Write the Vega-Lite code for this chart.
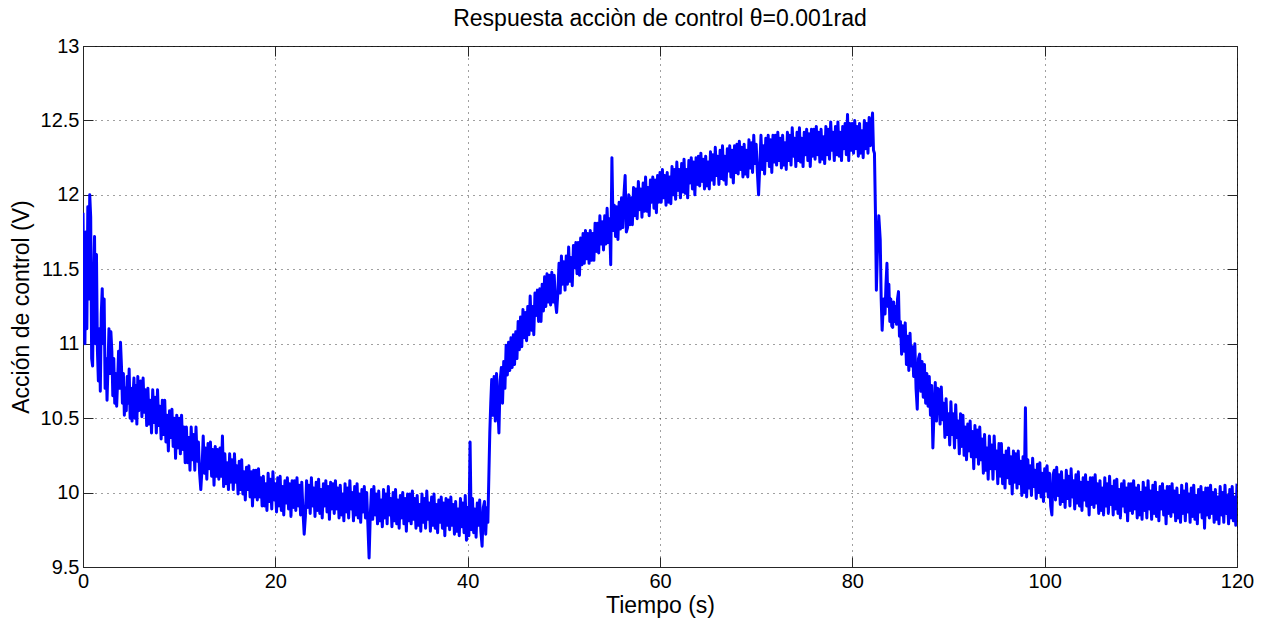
{
  "$schema": "https://vega.github.io/schema/vega-lite/v6.json",
  "autosize": {"type": "none"},
  "width": 1154,
  "height": 521,
  "padding": {"left": 83, "top": 46, "right": 28, "bottom": 57},
  "background": "white",
  "title": {"text": "Respuesta acciòn de control θ=0.001rad", "font": "Liberation Sans", "fontSize": 23, "fontWeight": "normal", "color": "#000000", "offset": 5, "anchor": "middle"},
  "config": {"view": {"stroke": "#262626", "strokeWidth": 1}},
  "data": {"values": [
{"t":0,"v":11.88},{"t":0.1,"v":11.2},{"t":0.2,"v":11.0},{"t":0.3,"v":11.75},{"t":0.4,"v":11.1},{"t":0.5,"v":11.92},{"t":0.6,"v":11.3},{"t":0.7,"v":12.0},{"t":0.8,"v":11.85},{"t":0.9,"v":10.9},
{"t":1.0,"v":10.85},{"t":1.1,"v":11.4},{"t":1.2,"v":11.72},{"t":1.3,"v":11.0},{"t":1.4,"v":11.6},{"t":1.5,"v":10.95},{"t":1.6,"v":10.75},{"t":1.7,"v":11.1},{"t":1.8,"v":10.68},{"t":1.9,"v":11.2},
{"t":2.0,"v":11.37},{"t":2.1,"v":11.0},{"t":2.2,"v":11.3},{"t":2.3,"v":10.7},{"t":2.4,"v":10.9},{"t":2.5,"v":10.62},{"t":2.6,"v":10.85},{"t":2.7,"v":11.1},{"t":2.8,"v":10.8},{"t":2.9,"v":11.08},
{"t":3.0,"v":10.95},{"t":3.1,"v":10.65},{"t":3.2,"v":10.9},{"t":3.3,"v":10.6},{"t":3.4,"v":10.8},{"t":3.5,"v":10.58},{"t":3.6,"v":10.75},{"t":3.7,"v":10.95},{"t":3.8,"v":10.7},{"t":3.9,"v":11.01},
{"t":4.0,"v":10.85},{"t":4.1,"v":10.6},{"t":4.2,"v":10.8},{"t":4.3,"v":10.52},{"t":4.4,"v":10.7},{"t":4.5,"v":10.55},{"t":4.6,"v":10.78},{"t":4.7,"v":10.6},{"t":4.8,"v":10.83},{"t":4.9,"v":10.5},
{"t":5.0,"v":10.7},{"t":5.1,"v":10.48},{"t":5.2,"v":10.65},{"t":5.3,"v":10.77},{"t":5.4,"v":10.5},{"t":5.5,"v":10.72},{"t":5.6,"v":10.46},{"t":5.7,"v":10.78},{"t":5.8,"v":10.55},{"t":5.9,"v":10.7},
{"t":6.0,"v":10.75},{"t":6.125,"v":10.51},{"t":6.25,"v":10.77},{"t":6.375,"v":10.54},{"t":6.5,"v":10.69},{"t":6.625,"v":10.45},{"t":6.75,"v":10.70},{"t":6.875,"v":10.46},
{"t":7.0,"v":10.62},{"t":7.125,"v":10.40},{"t":7.25,"v":10.69},{"t":7.375,"v":10.47},{"t":7.5,"v":10.64},{"t":7.625,"v":10.40},{"t":7.75,"v":10.69},{"t":7.875,"v":10.45},
{"t":8.0,"v":10.58},{"t":8.125,"v":10.36},{"t":8.25,"v":10.62},{"t":8.375,"v":10.39},{"t":8.5,"v":10.62},{"t":8.625,"v":10.34},{"t":8.75,"v":10.52},{"t":8.875,"v":10.28},
{"t":9.0,"v":10.55},{"t":9.125,"v":10.37},{"t":9.25,"v":10.56},{"t":9.375,"v":10.31},{"t":9.5,"v":10.50},{"t":9.625,"v":10.23},{"t":9.75,"v":10.52},{"t":9.875,"v":10.30},
{"t":10.0,"v":10.50},{"t":10.125,"v":10.26},{"t":10.25,"v":10.52},{"t":10.375,"v":10.29},{"t":10.5,"v":10.44},{"t":10.625,"v":10.20},{"t":10.75,"v":10.44},{"t":10.875,"v":10.20},
{"t":11.0,"v":10.37},{"t":11.125,"v":10.15},{"t":11.25,"v":10.44},{"t":11.375,"v":10.22},{"t":11.5,"v":10.39},{"t":11.625,"v":10.15},{"t":11.75,"v":10.44},{"t":11.875,"v":10.21},
{"t":12.0,"v":10.34},{"t":12.125,"v":10.13},{"t":12.25,"v":10.02},{"t":12.375,"v":10.16},{"t":12.5,"v":10.38},{"t":12.625,"v":10.13},{"t":12.75,"v":10.30},{"t":12.875,"v":10.09},
{"t":13.0,"v":10.33},{"t":13.125,"v":10.16},{"t":13.25,"v":10.34},{"t":13.375,"v":10.11},{"t":13.5,"v":10.29},{"t":13.625,"v":10.05},{"t":13.75,"v":10.31},{"t":13.875,"v":10.11},
{"t":14.0,"v":10.29},{"t":14.125,"v":10.09},{"t":14.25,"v":10.30},{"t":14.375,"v":10.11},{"t":14.5,"v":10.38},{"t":14.625,"v":10.04},{"t":14.75,"v":10.26},{"t":14.875,"v":10.06},
{"t":15.0,"v":10.20},{"t":15.125,"v":10.02},{"t":15.25,"v":10.26},{"t":15.375,"v":10.07},{"t":15.5,"v":10.22},{"t":15.625,"v":10.02},{"t":15.75,"v":10.26},{"t":15.875,"v":10.07},
{"t":16.0,"v":10.18},{"t":16.125,"v":9.99},{"t":16.25,"v":10.21},{"t":16.375,"v":10.02},{"t":16.5,"v":10.22},{"t":16.625,"v":9.99},{"t":16.75,"v":10.14},{"t":16.875,"v":9.95},
{"t":17.0,"v":10.17},{"t":17.125,"v":10.02},{"t":17.25,"v":10.18},{"t":17.375,"v":9.97},{"t":17.5,"v":10.14},{"t":17.625,"v":9.91},{"t":17.75,"v":10.15},{"t":17.875,"v":9.97},
{"t":18.0,"v":10.15},{"t":18.125,"v":9.95},{"t":18.25,"v":10.16},{"t":18.375,"v":9.97},{"t":18.5,"v":10.10},{"t":18.625,"v":9.91},{"t":18.75,"v":10.11},{"t":18.875,"v":9.91},
{"t":19.0,"v":10.06},{"t":19.125,"v":9.88},{"t":19.25,"v":10.13},{"t":19.375,"v":9.94},{"t":19.5,"v":10.09},{"t":19.625,"v":9.89},{"t":19.75,"v":10.14},{"t":19.875,"v":9.95},
{"t":20.0,"v":10.06},{"t":20.125,"v":9.87},{"t":20.25,"v":10.10},{"t":20.375,"v":9.91},{"t":20.5,"v":10.11},{"t":20.625,"v":9.88},{"t":20.75,"v":10.04},{"t":20.875,"v":9.85},
{"t":21.0,"v":10.08},{"t":21.125,"v":9.93},{"t":21.25,"v":10.10},{"t":21.375,"v":9.89},{"t":21.5,"v":10.06},{"t":21.625,"v":9.84},{"t":21.75,"v":10.08},{"t":21.875,"v":9.90},
{"t":22.0,"v":10.08},{"t":22.125,"v":9.88},{"t":22.25,"v":10.10},{"t":22.375,"v":9.91},{"t":22.5,"v":10.05},{"t":22.625,"v":9.85},{"t":22.75,"v":10.07},{"t":22.875,"v":9.87},
{"t":23.0,"v":9.72},{"t":23.125,"v":9.84},{"t":23.25,"v":10.08},{"t":23.375,"v":9.90},{"t":23.5,"v":10.05},{"t":23.625,"v":9.86},{"t":23.75,"v":10.10},{"t":23.875,"v":9.91},
{"t":24.0,"v":10.03},{"t":24.125,"v":9.84},{"t":24.25,"v":10.07},{"t":24.375,"v":9.88},{"t":24.5,"v":10.09},{"t":24.625,"v":9.86},{"t":24.75,"v":10.02},{"t":24.875,"v":9.83},
{"t":25.0,"v":10.06},{"t":25.125,"v":9.91},{"t":25.25,"v":10.08},{"t":25.375,"v":9.87},{"t":25.5,"v":10.04},{"t":25.625,"v":9.82},{"t":25.75,"v":10.07},{"t":25.875,"v":9.89},
{"t":26.0,"v":10.06},{"t":26.125,"v":9.86},{"t":26.25,"v":10.08},{"t":26.375,"v":9.89},{"t":26.5,"v":10.03},{"t":26.625,"v":9.83},{"t":26.75,"v":10.05},{"t":26.875,"v":9.85},
{"t":27.0,"v":9.99},{"t":27.125,"v":9.81},{"t":27.25,"v":10.06},{"t":27.375,"v":9.87},{"t":27.5,"v":10.03},{"t":27.625,"v":9.83},{"t":27.75,"v":10.08},{"t":27.875,"v":9.89},
{"t":28.0,"v":10.0},{"t":28.125,"v":9.81},{"t":28.25,"v":10.04},{"t":28.375,"v":9.85},{"t":28.5,"v":10.06},{"t":28.625,"v":9.83},{"t":28.75,"v":9.99},{"t":28.875,"v":9.80},
{"t":29.0,"v":10.02},{"t":29.125,"v":9.87},{"t":29.25,"v":10.04},{"t":29.375,"v":9.83},{"t":29.5,"v":10.0},{"t":29.625,"v":9.78},{"t":29.75,"v":9.56},{"t":29.875,"v":9.85},
{"t":30.0,"v":10.02},{"t":30.125,"v":9.82},{"t":30.25,"v":10.04},{"t":30.375,"v":9.85},{"t":30.5,"v":9.99},{"t":30.625,"v":9.79},{"t":30.75,"v":10.01},{"t":30.875,"v":9.81},
{"t":31.0,"v":9.95},{"t":31.125,"v":9.77},{"t":31.25,"v":10.02},{"t":31.375,"v":9.83},{"t":31.5,"v":9.99},{"t":31.625,"v":9.79},{"t":31.75,"v":10.04},{"t":31.875,"v":9.85},
{"t":32.0,"v":9.96},{"t":32.125,"v":9.77},{"t":32.25,"v":10.0},{"t":32.375,"v":9.81},{"t":32.5,"v":10.02},{"t":32.625,"v":9.79},{"t":32.75,"v":9.95},{"t":32.875,"v":9.76},
{"t":33.0,"v":9.98},{"t":33.125,"v":9.83},{"t":33.25,"v":10.0},{"t":33.375,"v":9.79},{"t":33.5,"v":9.96},{"t":33.625,"v":9.74},{"t":33.75,"v":9.99},{"t":33.875,"v":9.81},
{"t":34.0,"v":9.99},{"t":34.125,"v":9.79},{"t":34.25,"v":10.01},{"t":34.375,"v":9.82},{"t":34.5,"v":9.96},{"t":34.625,"v":9.76},{"t":34.75,"v":9.98},{"t":34.875,"v":9.78},
{"t":35.0,"v":9.92},{"t":35.125,"v":9.74},{"t":35.25,"v":9.99},{"t":35.375,"v":9.80},{"t":35.5,"v":9.96},{"t":35.625,"v":9.76},{"t":35.75,"v":10.01},{"t":35.875,"v":9.82},
{"t":36.0,"v":9.93},{"t":36.125,"v":9.74},{"t":36.25,"v":9.97},{"t":36.375,"v":9.78},{"t":36.5,"v":9.99},{"t":36.625,"v":9.76},{"t":36.75,"v":9.92},{"t":36.875,"v":9.73},
{"t":37.0,"v":9.95},{"t":37.125,"v":9.80},{"t":37.25,"v":9.97},{"t":37.375,"v":9.76},{"t":37.5,"v":9.93},{"t":37.625,"v":9.71},{"t":37.75,"v":9.96},{"t":37.875,"v":9.78},
{"t":38.0,"v":9.95},{"t":38.125,"v":9.75},{"t":38.25,"v":9.97},{"t":38.375,"v":9.78},{"t":38.5,"v":9.92},{"t":38.625,"v":9.72},{"t":38.75,"v":9.94},{"t":38.875,"v":9.74},
{"t":39.0,"v":9.89},{"t":39.125,"v":9.71},{"t":39.25,"v":9.96},{"t":39.375,"v":9.77},{"t":39.5,"v":9.93},{"t":39.625,"v":9.73},{"t":39.75,"v":9.98},{"t":39.875,"v":9.68},
{"t":40.0,"v":9.90},{"t":40.125,"v":9.71},{"t":40.25,"v":10.34},{"t":40.375,"v":9.75},{"t":40.5,"v":9.96},{"t":40.625,"v":9.73},{"t":40.75,"v":9.89},{"t":40.875,"v":9.70},
{"t":41.0,"v":9.93},{"t":41.125,"v":9.78},{"t":41.25,"v":9.95},{"t":41.375,"v":9.74},{"t":41.5,"v":9.64},{"t":41.625,"v":9.90},{"t":41.75,"v":9.94},{"t":41.875,"v":9.72},
{"t":42.0,"v":9.90},{"t":42.1,"v":9.80},{"t":42.2,"v":10.1},{"t":42.3,"v":10.4},{"t":42.4,"v":10.6},{"t":42.5,"v":10.76},{"t":42.625,"v":10.52},{"t":42.75,"v":10.78},{"t":42.875,"v":10.48},
{"t":43.0,"v":10.8},{"t":43.125,"v":10.6},{"t":43.25,"v":10.4},{"t":43.375,"v":10.75},{"t":43.5,"v":10.84},{"t":43.625,"v":10.6},{"t":43.75,"v":10.88},{"t":43.875,"v":10.7},
{"t":44.0,"v":10.99},{"t":44.125,"v":10.79},{"t":44.25,"v":11.01},{"t":44.375,"v":10.82},{"t":44.5,"v":11.04},{"t":44.625,"v":10.84},{"t":44.75,"v":11.06},{"t":44.875,"v":10.86},
{"t":45.0,"v":11.08},{"t":45.125,"v":10.90},{"t":45.25,"v":11.15},{"t":45.375,"v":10.96},{"t":45.5,"v":11.18},{"t":45.625,"v":10.98},{"t":45.75,"v":11.23},{"t":45.875,"v":11.04},
{"t":46.0,"v":11.21},{"t":46.125,"v":11.02},{"t":46.25,"v":11.25},{"t":46.375,"v":11.06},{"t":46.5,"v":11.32},{"t":46.625,"v":11.09},{"t":46.75,"v":11.25},{"t":46.875,"v":11.06},
{"t":47.0,"v":11.34},{"t":47.125,"v":11.19},{"t":47.25,"v":11.36},{"t":47.375,"v":11.15},{"t":47.5,"v":11.37},{"t":47.625,"v":11.15},{"t":47.75,"v":11.40},{"t":47.875,"v":11.22},
{"t":48.0,"v":11.45},{"t":48.125,"v":11.25},{"t":48.25,"v":11.47},{"t":48.375,"v":11.28},{"t":48.5,"v":11.46},{"t":48.625,"v":11.26},{"t":48.75,"v":11.48},{"t":48.875,"v":11.28},
{"t":49.0,"v":11.46},{"t":49.125,"v":11.28},{"t":49.25,"v":11.21},{"t":49.375,"v":11.34},{"t":49.5,"v":11.54},{"t":49.625,"v":11.34},{"t":49.75,"v":11.59},{"t":49.875,"v":11.40},
{"t":50.0,"v":11.55},{"t":50.125,"v":11.36},{"t":50.25,"v":11.59},{"t":50.375,"v":11.40},{"t":50.5,"v":11.65},{"t":50.625,"v":11.42},{"t":50.75,"v":11.58},{"t":50.875,"v":11.39},
{"t":51.0,"v":11.66},{"t":51.125,"v":11.51},{"t":51.25,"v":11.68},{"t":51.375,"v":11.47},{"t":51.5,"v":11.68},{"t":51.625,"v":11.46},{"t":51.75,"v":11.71},{"t":51.875,"v":11.53},
{"t":52.0,"v":11.74},{"t":52.125,"v":11.54},{"t":52.25,"v":11.76},{"t":52.375,"v":11.57},{"t":52.5,"v":11.74},{"t":52.625,"v":11.54},{"t":52.75,"v":11.76},{"t":52.875,"v":11.56},
{"t":53.0,"v":11.74},{"t":53.125,"v":11.56},{"t":53.25,"v":11.81},{"t":53.375,"v":11.62},{"t":53.5,"v":11.81},{"t":53.625,"v":11.61},{"t":53.75,"v":11.86},{"t":53.875,"v":11.67},
{"t":54.0,"v":11.82},{"t":54.125,"v":11.63},{"t":54.25,"v":11.86},{"t":54.375,"v":11.67},{"t":54.5,"v":11.91},{"t":54.625,"v":11.68},{"t":54.75,"v":11.84},{"t":54.875,"v":11.53},
{"t":55.0,"v":12.25},{"t":55.125,"v":11.76},{"t":55.25,"v":11.93},{"t":55.375,"v":11.72},{"t":55.5,"v":11.92},{"t":55.625,"v":11.70},{"t":55.75,"v":11.95},{"t":55.875,"v":11.77},
{"t":56.0,"v":11.98},{"t":56.125,"v":11.78},{"t":56.25,"v":12.0},{"t":56.375,"v":12.13},{"t":56.5,"v":11.75},{"t":56.625,"v":11.78},{"t":56.75,"v":12.0},{"t":56.875,"v":11.80},
{"t":57.0,"v":11.98},{"t":57.125,"v":11.80},{"t":57.25,"v":12.05},{"t":57.375,"v":11.86},{"t":57.5,"v":12.04},{"t":57.625,"v":11.84},{"t":57.75,"v":12.09},{"t":57.875,"v":11.90},
{"t":58.0,"v":12.04},{"t":58.125,"v":11.85},{"t":58.25,"v":12.08},{"t":58.375,"v":11.89},{"t":58.5,"v":12.12},{"t":58.625,"v":11.89},{"t":58.75,"v":12.05},{"t":58.875,"v":11.86},
{"t":59.0,"v":12.10},{"t":59.125,"v":11.95},{"t":59.25,"v":12.12},{"t":59.375,"v":11.91},{"t":59.5,"v":12.10},{"t":59.625,"v":11.88},{"t":59.75,"v":12.13},{"t":59.875,"v":11.95},
{"t":60.0,"v":12.15},{"t":60.125,"v":11.95},{"t":60.25,"v":12.17},{"t":60.375,"v":11.98},{"t":60.5,"v":12.13},{"t":60.625,"v":11.93},{"t":60.75,"v":12.15},{"t":60.875,"v":11.95},
{"t":61.0,"v":12.12},{"t":61.125,"v":11.94},{"t":61.25,"v":12.19},{"t":61.375,"v":12.0},{"t":61.5,"v":12.17},{"t":61.625,"v":11.97},{"t":61.75,"v":12.22},{"t":61.875,"v":12.03},
{"t":62.0,"v":12.17},{"t":62.125,"v":11.98},{"t":62.25,"v":12.21},{"t":62.375,"v":12.02},{"t":62.5,"v":12.24},{"t":62.625,"v":12.01},{"t":62.75,"v":12.17},{"t":62.875,"v":11.98},
{"t":63.0,"v":12.23},{"t":63.125,"v":12.08},{"t":63.25,"v":12.25},{"t":63.375,"v":12.04},{"t":63.5,"v":12.22},{"t":63.625,"v":12.0},{"t":63.75,"v":12.25},{"t":63.875,"v":12.07},
{"t":64.0,"v":12.26},{"t":64.125,"v":12.06},{"t":64.25,"v":12.28},{"t":64.375,"v":12.09},{"t":64.5,"v":12.24},{"t":64.625,"v":12.04},{"t":64.75,"v":12.26},{"t":64.875,"v":12.06},
{"t":65.0,"v":12.22},{"t":65.125,"v":12.04},{"t":65.25,"v":12.29},{"t":65.375,"v":12.10},{"t":65.5,"v":12.27},{"t":65.625,"v":12.07},{"t":65.75,"v":12.32},{"t":65.875,"v":12.13},
{"t":66.0,"v":12.26},{"t":66.125,"v":12.07},{"t":66.25,"v":12.30},{"t":66.375,"v":12.11},{"t":66.5,"v":12.33},{"t":66.625,"v":12.10},{"t":66.75,"v":12.26},{"t":66.875,"v":12.07},
{"t":67.0,"v":12.31},{"t":67.125,"v":12.16},{"t":67.25,"v":12.33},{"t":67.375,"v":12.12},{"t":67.5,"v":12.30},{"t":67.625,"v":12.08},{"t":67.75,"v":12.33},{"t":67.875,"v":12.15},
{"t":68.0,"v":12.34},{"t":68.125,"v":12.14},{"t":68.25,"v":12.36},{"t":68.375,"v":12.17},{"t":68.5,"v":12.32},{"t":68.625,"v":12.12},{"t":68.75,"v":12.34},{"t":68.875,"v":12.14},
{"t":69.0,"v":12.30},{"t":69.125,"v":12.12},{"t":69.25,"v":12.37},{"t":69.375,"v":12.18},{"t":69.5,"v":12.35},{"t":69.625,"v":12.15},{"t":69.75,"v":12.40},{"t":69.875,"v":12.21},
{"t":70.0,"v":12.34},{"t":70.125,"v":12.15},{"t":70.25,"v":12.0},{"t":70.375,"v":12.19},{"t":70.5,"v":12.40},{"t":70.625,"v":12.17},{"t":70.75,"v":12.33},{"t":70.875,"v":12.14},
{"t":71.0,"v":12.38},{"t":71.125,"v":12.23},{"t":71.25,"v":12.40},{"t":71.375,"v":12.19},{"t":71.5,"v":12.37},{"t":71.625,"v":12.15},{"t":71.75,"v":12.40},{"t":71.875,"v":12.22},
{"t":72.0,"v":12.40},{"t":72.125,"v":12.20},{"t":72.25,"v":12.42},{"t":72.375,"v":12.23},{"t":72.5,"v":12.38},{"t":72.625,"v":12.18},{"t":72.75,"v":12.40},{"t":72.875,"v":12.20},
{"t":73.0,"v":12.35},{"t":73.125,"v":12.17},{"t":73.25,"v":12.42},{"t":73.375,"v":12.23},{"t":73.5,"v":12.40},{"t":73.625,"v":12.20},{"t":73.75,"v":12.45},{"t":73.875,"v":12.26},
{"t":74.0,"v":12.38},{"t":74.125,"v":12.19},{"t":74.25,"v":12.42},{"t":74.375,"v":12.23},{"t":74.5,"v":12.45},{"t":74.625,"v":12.22},{"t":74.75,"v":12.38},{"t":74.875,"v":12.19},
{"t":75.0,"v":12.42},{"t":75.125,"v":12.27},{"t":75.25,"v":12.44},{"t":75.375,"v":12.23},{"t":75.5,"v":12.41},{"t":75.625,"v":12.19},{"t":75.75,"v":12.44},{"t":75.875,"v":12.26},
{"t":76.0,"v":12.44},{"t":76.125,"v":12.24},{"t":76.25,"v":12.46},{"t":76.375,"v":12.27},{"t":76.5,"v":12.42},{"t":76.625,"v":12.22},{"t":76.75,"v":12.44},{"t":76.875,"v":12.24},
{"t":77.0,"v":12.39},{"t":77.125,"v":12.21},{"t":77.25,"v":12.46},{"t":77.375,"v":12.27},{"t":77.5,"v":12.44},{"t":77.625,"v":12.24},{"t":77.75,"v":12.49},{"t":77.875,"v":12.30},
{"t":78.0,"v":12.42},{"t":78.125,"v":12.23},{"t":78.25,"v":12.46},{"t":78.375,"v":12.27},{"t":78.5,"v":12.49},{"t":78.625,"v":12.26},{"t":78.75,"v":12.42},{"t":78.875,"v":12.23},
{"t":79.0,"v":12.46},{"t":79.125,"v":12.31},{"t":79.25,"v":12.48},{"t":79.375,"v":12.27},{"t":79.5,"v":12.54},{"t":79.625,"v":12.23},{"t":79.75,"v":12.48},{"t":79.875,"v":12.30},
{"t":80.0,"v":12.48},{"t":80.125,"v":12.28},{"t":80.25,"v":12.50},{"t":80.375,"v":12.31},{"t":80.5,"v":12.46},{"t":80.625,"v":12.26},{"t":80.75,"v":12.48},{"t":80.875,"v":12.28},
{"t":81.0,"v":12.43},{"t":81.125,"v":12.25},{"t":81.25,"v":12.50},{"t":81.375,"v":12.31},{"t":81.5,"v":12.48},{"t":81.625,"v":12.28},{"t":81.75,"v":12.52},{"t":81.875,"v":12.33},
{"t":82.0,"v":12.46},{"t":82.1,"v":12.55},{"t":82.2,"v":12.3},{"t":82.3,"v":12.28},{"t":82.4,"v":11.9},{"t":82.5,"v":11.36},{"t":82.6,"v":11.6},{"t":82.75,"v":11.86},{"t":82.9,"v":11.7},
{"t":83.0,"v":11.3},{"t":83.1,"v":11.09},{"t":83.25,"v":11.3},{"t":83.4,"v":11.2},{"t":83.5,"v":11.4},{"t":83.6,"v":11.54},{"t":83.7,"v":11.25},{"t":83.8,"v":11.4},{"t":83.9,"v":11.15},
{"t":84.0,"v":11.3},{"t":84.1,"v":11.12},{"t":84.2,"v":11.11},{"t":84.3,"v":11.28},{"t":84.4,"v":11.15},{"t":84.5,"v":11.25},{"t":84.6,"v":11.13},{"t":84.7,"v":11.3},{"t":84.8,"v":11.35},{"t":84.9,"v":11.05},
{"t":85.0,"v":11.15},{"t":85.125,"v":10.93},{"t":85.25,"v":11.12},{"t":85.375,"v":10.95},{"t":85.5,"v":11.14},{"t":85.625,"v":10.86},{"t":85.75,"v":11.05},{"t":85.875,"v":10.82},
{"t":86.0,"v":11.07},{"t":86.125,"v":10.85},{"t":86.25,"v":10.98},{"t":86.375,"v":10.78},{"t":86.5,"v":11.0},{"t":86.625,"v":10.70},{"t":86.75,"v":10.56},{"t":86.875,"v":10.9},
{"t":87.0,"v":10.93},{"t":87.125,"v":10.68},{"t":87.25,"v":10.88},{"t":87.375,"v":10.64},{"t":87.5,"v":10.86},{"t":87.625,"v":10.60},{"t":87.75,"v":10.80},{"t":87.875,"v":10.58},
{"t":88.0,"v":10.78},{"t":88.125,"v":10.52},{"t":88.25,"v":10.72},{"t":88.375,"v":10.30},{"t":88.5,"v":10.55},{"t":88.625,"v":10.74},{"t":88.75,"v":10.48},{"t":88.875,"v":10.70},
{"t":89.0,"v":10.69},{"t":89.125,"v":10.46},{"t":89.25,"v":10.71},{"t":89.375,"v":10.49},{"t":89.5,"v":10.60},{"t":89.625,"v":10.37},{"t":89.75,"v":10.63},{"t":89.875,"v":10.39},
{"t":90.0,"v":10.53},{"t":90.125,"v":10.32},{"t":90.25,"v":10.61},{"t":90.375,"v":10.39},{"t":90.5,"v":10.53},{"t":90.625,"v":10.30},{"t":90.75,"v":10.59},{"t":90.875,"v":10.37},
{"t":91.0,"v":10.48},{"t":91.125,"v":10.26},{"t":91.25,"v":10.53},{"t":91.375,"v":10.31},{"t":91.5,"v":10.52},{"t":91.625,"v":10.25},{"t":91.75,"v":10.44},{"t":91.875,"v":10.22},
{"t":92.0,"v":10.46},{"t":92.125,"v":10.28},{"t":92.25,"v":10.48},{"t":92.375,"v":10.24},{"t":92.5,"v":10.41},{"t":92.625,"v":10.16},{"t":92.75,"v":10.45},{"t":92.875,"v":10.24},
{"t":93.0,"v":10.42},{"t":93.125,"v":10.19},{"t":93.25,"v":10.44},{"t":93.375,"v":10.22},{"t":93.5,"v":10.36},{"t":93.625,"v":10.13},{"t":93.75,"v":10.39},{"t":93.875,"v":10.15},
{"t":94.0,"v":10.30},{"t":94.125,"v":10.09},{"t":94.25,"v":10.38},{"t":94.375,"v":10.16},{"t":94.5,"v":10.32},{"t":94.625,"v":10.09},{"t":94.75,"v":10.38},{"t":94.875,"v":10.16},
{"t":95.0,"v":10.28},{"t":95.125,"v":10.06},{"t":95.25,"v":10.33},{"t":95.375,"v":10.11},{"t":95.5,"v":10.33},{"t":95.625,"v":10.06},{"t":95.75,"v":10.25},{"t":95.875,"v":10.03},
{"t":96.0,"v":10.28},{"t":96.125,"v":10.10},{"t":96.25,"v":10.30},{"t":96.375,"v":10.06},{"t":96.5,"v":10.24},{"t":96.625,"v":9.99},{"t":96.75,"v":10.28},{"t":96.875,"v":10.07},
{"t":97.0,"v":10.26},{"t":97.125,"v":10.03},{"t":97.25,"v":10.28},{"t":97.375,"v":10.06},{"t":97.5,"v":10.21},{"t":97.625,"v":9.98},{"t":97.75,"v":10.24},{"t":97.875,"v":10.0},
{"t":98.0,"v":10.57},{"t":98.125,"v":9.97},{"t":98.25,"v":10.22},{"t":98.375,"v":10.03},{"t":98.5,"v":10.18},{"t":98.625,"v":9.98},{"t":98.75,"v":10.23},{"t":98.875,"v":10.04},
{"t":99.0,"v":10.15},{"t":99.125,"v":9.96},{"t":99.25,"v":10.19},{"t":99.375,"v":10.0},{"t":99.5,"v":10.20},{"t":99.625,"v":9.97},{"t":99.75,"v":10.13},{"t":99.875,"v":9.94},
{"t":100.0,"v":10.16},{"t":100.125,"v":10.01},{"t":100.25,"v":10.18},{"t":100.375,"v":9.97},{"t":100.5,"v":10.13},{"t":100.625,"v":9.91},{"t":100.75,"v":9.85},{"t":100.875,"v":10.12},
{"t":101.0,"v":10.15},{"t":101.125,"v":9.95},{"t":101.25,"v":10.17},{"t":101.375,"v":9.98},{"t":101.5,"v":10.12},{"t":101.625,"v":9.92},{"t":101.75,"v":10.14},{"t":101.875,"v":9.94},
{"t":102.0,"v":10.08},{"t":102.125,"v":9.90},{"t":102.25,"v":10.15},{"t":102.375,"v":9.96},{"t":102.5,"v":10.11},{"t":102.625,"v":9.91},{"t":102.75,"v":10.16},{"t":102.875,"v":9.97},
{"t":103.0,"v":10.08},{"t":103.125,"v":9.89},{"t":103.25,"v":10.12},{"t":103.375,"v":9.93},{"t":103.5,"v":10.14},{"t":103.625,"v":9.91},{"t":103.75,"v":10.07},{"t":103.875,"v":9.88},
{"t":104.0,"v":10.10},{"t":104.125,"v":9.95},{"t":104.25,"v":10.12},{"t":104.375,"v":9.91},{"t":104.5,"v":10.07},{"t":104.625,"v":9.85},{"t":104.75,"v":10.10},{"t":104.875,"v":9.92},
{"t":105.0,"v":10.10},{"t":105.125,"v":9.90},{"t":105.25,"v":10.12},{"t":105.375,"v":9.93},{"t":105.5,"v":10.06},{"t":105.625,"v":9.86},{"t":105.75,"v":10.08},{"t":105.875,"v":9.88},
{"t":106.0,"v":10.03},{"t":106.125,"v":9.85},{"t":106.25,"v":10.10},{"t":106.375,"v":9.91},{"t":106.5,"v":10.06},{"t":106.625,"v":9.86},{"t":106.75,"v":10.11},{"t":106.875,"v":9.92},
{"t":107.0,"v":10.04},{"t":107.125,"v":9.85},{"t":107.25,"v":10.08},{"t":107.375,"v":9.89},{"t":107.5,"v":10.09},{"t":107.625,"v":9.86},{"t":107.75,"v":10.02},{"t":107.875,"v":9.83},
{"t":108.0,"v":10.06},{"t":108.125,"v":9.91},{"t":108.25,"v":10.08},{"t":108.375,"v":9.87},{"t":108.5,"v":10.03},{"t":108.625,"v":9.81},{"t":108.75,"v":10.06},{"t":108.875,"v":9.88},
{"t":109.0,"v":10.06},{"t":109.125,"v":9.86},{"t":109.25,"v":10.08},{"t":109.375,"v":9.89},{"t":109.5,"v":10.03},{"t":109.625,"v":9.83},{"t":109.75,"v":10.05},{"t":109.875,"v":9.85},
{"t":110.0,"v":10.0},{"t":110.125,"v":9.82},{"t":110.25,"v":10.07},{"t":110.375,"v":9.88},{"t":110.5,"v":10.03},{"t":110.625,"v":9.83},{"t":110.75,"v":10.08},{"t":110.875,"v":9.89},
{"t":111.0,"v":10.01},{"t":111.125,"v":9.82},{"t":111.25,"v":10.05},{"t":111.375,"v":9.86},{"t":111.5,"v":10.07},{"t":111.625,"v":9.84},{"t":111.75,"v":10.0},{"t":111.875,"v":9.81},
{"t":112.0,"v":10.04},{"t":112.125,"v":9.89},{"t":112.25,"v":10.06},{"t":112.375,"v":9.85},{"t":112.5,"v":10.01},{"t":112.625,"v":9.79},{"t":112.75,"v":10.04},{"t":112.875,"v":9.86},
{"t":113.0,"v":10.04},{"t":113.125,"v":9.84},{"t":113.25,"v":10.06},{"t":113.375,"v":9.87},{"t":113.5,"v":10.01},{"t":113.625,"v":9.81},{"t":113.75,"v":10.03},{"t":113.875,"v":9.83},
{"t":114.0,"v":9.98},{"t":114.125,"v":9.80},{"t":114.25,"v":10.05},{"t":114.375,"v":9.86},{"t":114.5,"v":10.01},{"t":114.625,"v":9.81},{"t":114.75,"v":10.06},{"t":114.875,"v":9.87},
{"t":115.0,"v":9.99},{"t":115.125,"v":9.80},{"t":115.25,"v":10.03},{"t":115.375,"v":9.84},{"t":115.5,"v":10.05},{"t":115.625,"v":9.82},{"t":115.75,"v":9.98},{"t":115.875,"v":9.79},
{"t":116.0,"v":10.02},{"t":116.125,"v":9.87},{"t":116.25,"v":10.04},{"t":116.375,"v":9.83},{"t":116.5,"v":10.0},{"t":116.625,"v":9.76},{"t":116.75,"v":10.03},{"t":116.875,"v":9.85},
{"t":117.0,"v":10.03},{"t":117.125,"v":9.83},{"t":117.25,"v":10.05},{"t":117.375,"v":9.86},{"t":117.5,"v":10.0},{"t":117.625,"v":9.80},{"t":117.75,"v":10.02},{"t":117.875,"v":9.82},
{"t":118.0,"v":9.97},{"t":118.125,"v":9.79},{"t":118.25,"v":10.04},{"t":118.375,"v":9.85},{"t":118.5,"v":10.0},{"t":118.625,"v":9.80},{"t":118.75,"v":10.05},{"t":118.875,"v":9.86},
{"t":119.0,"v":9.98},{"t":119.125,"v":9.79},{"t":119.25,"v":10.02},{"t":119.375,"v":9.83},{"t":119.5,"v":10.04},{"t":119.625,"v":9.81},{"t":119.75,"v":9.97},{"t":119.875,"v":9.78},
{"t":120.0,"v":10.06}
  ]},
  "layer": [
    {
      "mark": {"type": "line", "color": "#0000FF", "strokeWidth": 3, "clip": true, "strokeJoin": "round"},
      "encoding": {
        "x": {"field": "t", "type": "quantitative", "scale": {"domain": [0, 120], "nice": false, "zero": false},
          "axis": {"orient": "bottom", "values": [0, 20, 40, 60, 80, 100, 120], "format": "~r", "title": "Tiempo (s)",
            "grid": true, "gridColor": "#000000", "gridOpacity": 0.75, "gridDash": [1, 5], "gridWidth": 1,
            "domain": true, "domainColor": "#262626", "ticks": true, "tickSize": -10, "tickColor": "#262626", "tickWidth": 1,
            "labelFont": "Liberation Sans", "labelFontSize": 20, "labelColor": "#000000", "labelPadding": 14, "labelFlush": false,
            "titleFont": "Liberation Sans", "titleFontSize": 23, "titleFontWeight": "normal", "titleColor": "#000000", "titlePadding": 3}},
        "y": {"field": "v", "type": "quantitative", "scale": {"domain": [9.5, 13], "nice": false, "zero": false},
          "axis": {"orient": "left", "values": [9.5, 10, 10.5, 11, 11.5, 12, 12.5, 13], "format": "~r", "title": "Acción de control (V)",
            "grid": true, "gridColor": "#000000", "gridOpacity": 0.75, "gridDash": [1, 5], "gridWidth": 1,
            "domain": true, "domainColor": "#262626", "ticks": true, "tickSize": -10, "tickColor": "#262626", "tickWidth": 1,
            "labelFont": "Liberation Sans", "labelFontSize": 20, "labelColor": "#000000", "labelPadding": 14, "labelFlush": false,
            "titleFont": "Liberation Sans", "titleFontSize": 23, "titleFontWeight": "normal", "titleColor": "#000000", "titlePadding": 7}}
      }
    },
    {
      "mark": {"type": "line", "strokeOpacity": 0},
      "encoding": {
        "x": {"field": "t", "type": "quantitative",
          "axis": {"orient": "top", "values": [0, 20, 40, 60, 80, 100, 120], "labels": false, "title": null, "grid": false,
            "domain": false, "ticks": true, "tickSize": -10, "tickColor": "#262626", "tickWidth": 1}},
        "y": {"field": "v", "type": "quantitative",
          "axis": {"orient": "right", "values": [9.5, 10, 10.5, 11, 11.5, 12, 12.5, 13], "labels": false, "title": null, "grid": false,
            "domain": false, "ticks": true, "tickSize": -10, "tickColor": "#262626", "tickWidth": 1}}
      }
    }
  ],
  "resolve": {"axis": {"x": "independent", "y": "independent"}}
}
